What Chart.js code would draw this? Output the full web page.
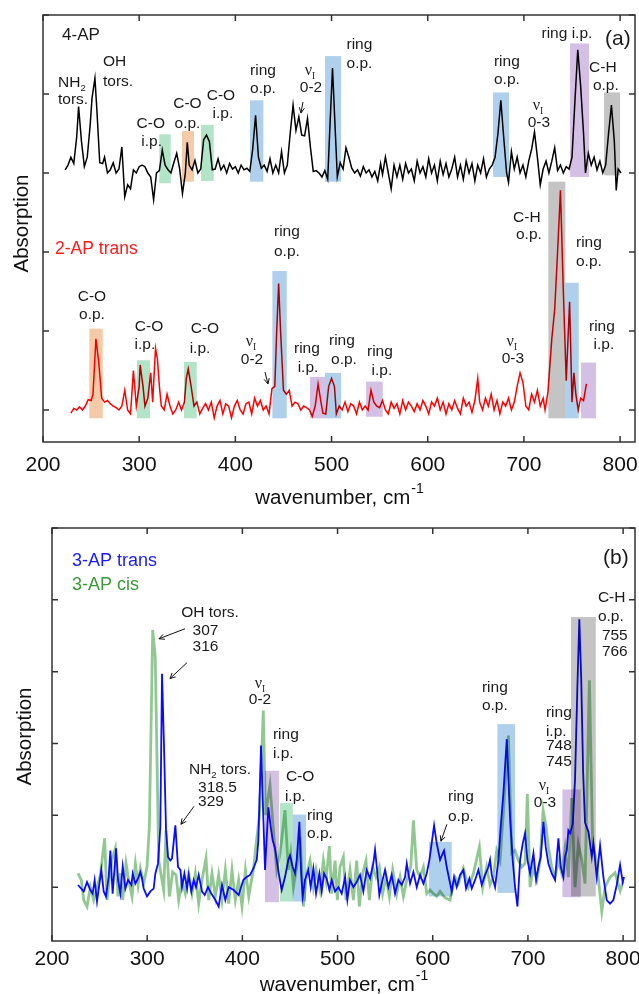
<!DOCTYPE html>
<html>
<head>
<meta charset="utf-8">
<script src="https://cdn.jsdelivr.net/npm/chart.js@4.4.0/dist/chart.umd.min.js"></script>
<style>
  body { margin: 0; background: #fff; }
  canvas { position: absolute; left: 0; }
  #chartA { top: 0; }
  #chartB { top: 515px; }
</style>
</head>
<body>
<canvas id="chartA" width="639" height="515"></canvas>
<canvas id="chartB" width="639" height="479"></canvas>
<script>
// ---- panel (a): 4-AP (offset +3) and 2-AP trans ----
const ap4Wn = [223,226,229,232,235,237,240,243,246,249,251,254,256,259,262,264,267,270,273,276,279,282,285,288,291,294,297,300,303,306,309,312,315,318,321,324,327,330,333,336,339,342,345,348,350,352,355,358,361,364,367,370,373,376,379,382,385,388,391,394,397,400,403,406,409,412,415,418,421,424,427,430,433,436,439,442,445,448,451,454,457,460,463,466,469,472,475,478,481,484,487,490,493,496,498,501,504,506,509,512,515,518,521,524,527,530,533,536,539,542,545,548,551,553,556,559,562,565,568,571,574,577,580,583,586,589,592,595,598,601,604,607,610,613,616,619,622,625,628,631,634,637,640,643,646,649,652,655,658,661,664,667,670,673,676,679,682,684,687,690,693,696,699,702,705,708,711,714,717,720,723,726,729,732,735,738,741,744,747,750,753,756,759,762,764,767,770,773,776,779,782,785,788,791,794,796,798,801];
const ap4Abs = [3.04,3.1,3.2,3.12,3.45,3.84,3.4,3.08,3.2,3.6,3.95,4.2,3.8,3.13,3.12,3.2,3.0,3.04,3.13,3.0,3.05,3.33,2.7,2.85,2.8,3.04,3.0,3.08,3.1,3.08,3.0,2.95,2.66,3.0,3.03,3.29,3.1,3.04,3.0,3.13,3.25,3.06,2.74,3.0,3.39,3.1,3.04,3.16,3.0,3.05,3.42,3.48,3.4,3.04,3.05,3.18,3.04,3.1,3.0,3.12,3.05,3.08,3.0,3.1,3.04,3.06,3.02,3.3,3.73,3.2,3.06,3.1,3.02,3.18,3.0,3.1,3.0,3.27,3.0,3.1,3.5,3.86,3.54,3.71,3.48,3.47,3.69,3.33,3.02,3.03,3.0,2.95,3.03,2.92,3.5,4.33,3.5,2.95,3.13,3.05,3.32,3.2,3.06,3.0,3.04,2.96,3.08,3.0,3.04,2.95,3.02,2.9,3.12,2.98,3.2,3.0,2.8,3.1,2.95,3.1,2.92,3.12,3.0,3.05,2.9,3.15,3.0,3.08,2.95,3.18,3.0,3.1,2.9,3.15,2.98,3.12,2.95,3.05,3.2,2.95,3.1,2.92,3.15,3.0,3.12,2.9,3.1,3.0,3.18,2.95,3.05,3.1,3.2,3.5,3.92,3.45,3.0,2.88,3.27,3.05,3.2,3.0,3.1,2.95,3.15,3.3,3.52,3.2,2.85,3.05,3.15,3.0,3.15,3.32,3.03,3.1,3.0,3.08,3.05,3.2,3.9,4.56,4.1,3.5,3.0,3.25,3.1,3.2,3.04,3.15,3.0,3.1,3.5,3.86,3.4,2.78,3.05,3.0];

const ap2Wn = [229,232,235,238,241,244,247,250,252,255,258,261,264,267,270,273,276,279,282,285,288,291,294,297,300,301,304,306,309,312,314,317,319,321,323,326,329,332,335,338,341,344,347,349,351,354,357,360,363,366,369,372,375,378,381,384,387,390,393,396,399,402,405,408,411,414,417,420,423,426,429,432,435,438,441,443,445,447,450,453,456,459,462,465,468,471,474,477,480,483,486,489,491,494,497,500,503,505,508,511,514,517,520,523,526,529,532,535,538,541,544,547,550,553,556,559,562,565,568,571,574,577,580,583,586,589,592,595,598,601,604,607,610,613,616,619,622,625,628,631,634,637,640,643,646,649,652,654,657,660,663,666,669,672,675,678,681,684,687,690,693,696,699,702,705,708,711,714,717,720,722,725,729,732,735,738,741,744,747.5,750,752,754,756.5,759,762,765];
const ap2Abs = [-0.04,0.02,0.0,0.04,0.0,0.05,0.13,0.12,0.2,0.9,0.6,0.15,0.1,0.12,0.08,0.05,0.03,0.0,0.05,0.25,0.0,-0.05,0.5,0.05,0.3,0.57,0.3,0.05,0.15,0.47,0.1,0.78,0.64,0.3,0.05,0.0,0.2,0.05,-0.05,0.0,0.1,0.0,0.1,0.4,0.52,0.3,0.05,0.1,-0.05,0.02,0.08,0.0,0.1,-0.1,0.05,0.12,-0.05,0.08,0.05,-0.1,0.05,0.12,0.0,-0.05,0.08,0.1,-0.05,0.15,0.05,0.12,0.0,0.05,-0.05,0.27,0.3,1.0,1.6,1.0,0.25,0.2,0.25,0.05,0.1,0.08,0.0,0.05,0.03,0.0,-0.08,0.05,0.33,0.1,-0.04,-0.05,0.3,0.4,0.3,-0.05,0.05,0.0,0.1,-0.02,0.08,0.05,-0.05,0.1,0.0,0.05,0.0,0.25,0.1,0.05,0.03,0.12,0.0,-0.05,0.1,0.02,0.08,-0.05,0.12,0.0,0.1,0.05,-0.02,0.08,0.0,0.12,0.05,-0.05,0.1,0.05,0.15,0.0,0.1,-0.05,0.08,0.0,0.12,0.02,-0.05,0.15,0.05,0.1,-0.03,0.12,0.4,0.1,0.0,0.15,0.05,0.2,0.0,0.12,-0.05,0.1,0.05,0.15,0.0,0.1,0.3,0.47,0.35,0.05,0.0,0.2,0.1,0.25,0.05,0.15,0.0,0.23,0.9,1.27,2.0,2.78,1.5,0.37,1.37,0.1,0.47,0.2,0.0,0.15,0.12,0.33];

// ---- panel (b): 3-AP trans and 3-AP cis ----
const ap3tWn = [227.3,233.3,236.8,240.3,242.7,244.8,247.3,251.8,254.3,256.7,259.5,261.3,263.7,267.3,269.4,271.8,274.3,277.1,279.9,283.4,284.8,287.6,290.4,292.8,294.6,296.3,299.8,303.3,306.8,308.6,311.4,313.8,315.6,317.6,319.8,321.9,324.3,326.1,329.6,332.4,334.9,336.6,339.1,341.9,343.6,346.4,348.9,351.3,354.1,357.6,360.4,363.9,367.4,371.6,375.1,378.6,382.1,385.6,390.9,396.1,401.0,404.5,408.1,411.6,415.1,416.8,419.6,423.8,427.3,429.8,431.9,434.3,436.1,438.9,441.3,444.8,448.3,450.1,452.9,455.3,457.1,459.9,461.6,463.4,465.8,469.3,471.8,474.6,477.4,480.9,483.4,485.8,488.6,491.4,493.9,497.4,500.9,504.4,507.9,510.3,513.1,516.6,520.1,523.6,527.1,530.6,534.1,537.6,539.4,541.9,543.9,546.4,549.9,553.4,556.9,560.4,563.9,567.4,570.9,572.7,576.2,579.7,583.2,586.7,590.2,593.7,596.5,598.9,601.4,604.2,607.7,610.5,611.9,614.7,617.5,620.0,622.4,625.2,628.7,632.2,635.0,638.5,641.0,644.5,648.0,651.5,655.0,658.5,660.2,662.0,665.5,669.0,671.4,674.2,677.8,681.2,684.0,686.5,689.0,691.8,694.6,697.0,699.5,702.3,705.8,708.6,711.0,713.5,716.3,718.7,721.5,725.0,728.5,732.0,734.5,737.3,739.0,740.8,742.5,744.3,747.1,749.5,752.0,754.0,756.0,758.0,760.0,763.6,767.1,768.8,772.3,775.8,779.3,782.8,786.3,789.8,793.3,796.8,799.6,801.0];
const ap3tAbs = [0.03,-0.06,0.07,-0.04,-0.09,0.10,-0.20,0.24,-0.06,-0.13,0.14,0.51,-0.09,0.54,0.10,-0.09,0.29,-0.02,0.10,0.03,0.19,0.05,0.12,0.21,0.12,-0.02,-0.13,-0.06,-0.02,0.19,0.33,0.84,2.97,2.0,0.79,0.42,0.37,0.40,0.86,0.28,0.24,0.0,0.19,-0.02,0.17,-0.06,0.10,0.0,0.17,-0.06,-0.11,0.0,-0.09,-0.18,-0.27,0.03,-0.18,0.0,-0.04,-0.11,0.10,0.14,0.17,0.26,0.38,0.65,1.97,0.24,1.11,0.84,0.65,0.54,0.38,0.14,-0.04,0.14,0.38,0.44,0.28,0.19,0.38,0.91,0.24,-0.13,0.10,0.24,0.0,0.26,-0.09,0.19,-0.06,0.19,0.12,-0.04,0.10,-0.06,0.0,-0.09,0.14,-0.18,0.10,0.0,0.07,0.17,-0.06,0.24,0.12,0.33,0.52,0.19,-0.11,0.05,0.24,0.0,0.17,-0.09,0.10,0.03,0.14,0.33,0.05,0.21,0.0,0.17,0.05,0.19,0.38,0.61,0.86,0.61,0.38,0.47,0.51,0.28,0.10,-0.06,0.14,0.0,0.17,0.24,-0.02,0.12,-0.02,0.10,0.24,0.03,0.17,0.28,0.38,0.17,0.0,0.38,0.84,1.3,2.06,0.98,0.38,0.0,-0.27,0.38,0.61,0.75,0.38,0.19,0.47,0.10,0.28,0.42,0.91,0.56,0.33,0.19,0.10,0.68,0.28,0.14,0.42,0.51,0.79,0.75,0.88,1.5,2.8,3.73,2.9,1.6,0.9,0.77,0.42,0.61,0.14,0.58,0.14,-0.18,-0.23,-0.18,0.03,0.31,0.07,0.14];

const ap3cWn = [227.3,230.8,233.3,236.8,240.3,243.8,247.3,250.8,255.3,257.8,260.2,263.0,266.5,269.4,271.8,274.3,277.8,280.6,284.1,287.6,290.4,292.8,296.3,299.8,302.3,305.8,308.5,312.1,313.8,317.3,319.8,323.3,326.8,330.3,333.1,336.6,340.1,343.6,347.1,350.6,354.1,357.6,361.8,364.6,368.1,371.6,375.1,378.6,382.1,385.6,389.1,392.6,396.1,399.6,403.2,406.7,410.2,411.6,414.4,418.0,422.0,424.2,429.0,433.3,436.1,439.6,444.8,448.3,450.8,453.6,457.1,460.6,464.1,467.6,471.1,474.6,477.4,481.6,485.1,487.9,491.4,493.9,497.4,499.8,502.6,506.1,508.9,513.1,516.6,520.1,522.9,526.4,529.9,533.4,536.9,540.4,543.9,547.4,550.9,554.4,557.9,562.2,565.7,569.2,572.7,576.9,579.7,583.2,586.7,590.2,593.7,597.2,600.7,604.2,607.7,612.9,618.2,623.4,626.9,632.2,637.5,642.7,649.0,652.5,656.7,660.2,663.7,667.2,670.7,674.0,679.5,683.0,686.5,690.0,693.5,697.0,699.4,702.3,705.8,709.3,712.8,716.0,719.1,721.5,725.0,728.5,732.0,735.5,739.0,742.5,746.0,749.5,753.0,756.6,760.0,764.6,768.0,772.0,777.6,781.0,786.3,791.6,797.0,800.0];
const ap3cAbs = [0.19,0.10,-0.18,-0.27,0.0,-0.18,0.0,0.17,0.68,-0.18,0.10,0.38,0.54,-0.13,0.19,-0.18,0.33,0.10,-0.13,0.33,0.03,0.26,0.05,0.28,0.84,3.58,3.2,0.37,0.24,-0.04,0.79,-0.13,0.21,0.17,-0.18,0.10,-0.09,0.19,-0.09,0.19,-0.23,0.10,0.40,-0.18,0.19,-0.13,0.17,-0.18,0.24,-0.23,0.24,-0.18,0.10,-0.27,0.24,-0.13,0.14,0.24,0.60,1.0,2.46,1.0,1.42,0.68,0.24,0.47,1.07,0.24,0.47,0.0,0.28,0.70,-0.27,0.19,0.37,0.0,0.24,-0.04,0.37,0.10,0.57,-0.09,0.37,-0.18,0.28,0.42,-0.18,0.24,-0.18,0.37,-0.27,0.19,0.37,-0.18,0.28,0.14,0.28,-0.09,0.14,-0.13,0.24,-0.09,0.14,-0.13,0.10,0.28,0.93,0.24,0.14,0.28,-0.09,-0.04,-0.09,-0.13,-0.06,-0.15,-0.18,0.14,0.05,0.26,0.0,0.19,0.56,0.0,0.28,0.03,0.14,0.51,0.37,1.0,2.11,0.47,0.51,0.37,0.28,0.33,1.3,0.0,0.28,0.10,0.37,1.07,0.84,0.56,0.28,0.14,0.37,0.19,0.54,0.14,1.24,0.0,0.60,0.38,0.05,2.88,0.6,0.38,-0.34,0.0,0.14,0.2,-0.05,0.08];

// axis ticks
const xTicks = [200, 300, 400, 500, 600, 700, 800];
const yTicks = [0, 1, 2, 3, 4, 5];

// highlighted bands: [from, to, bottom, top, colour]
const bandsA = [
  [320.9,332.8,2.87,3.49,'green'], [344.5,357.0,2.89,3.53,'orange'], [364.3,377.5,2.90,3.61,'green'],
  [415.2,429.1,2.89,3.92,'blue'], [493.2,509.9,2.89,4.48,'blue'], [667.9,684.6,2.95,4.02,'blue'],
  [748.0,767.7,2.95,4.64,'purple'], [783.3,800.0,2.97,4.02,'gray'],
  [248.2,262.1,-0.105,1.03,'orange'], [297.7,311.3,-0.105,0.63,'green'], [346.6,359.8,-0.105,0.61,'green'],
  [438.5,453.4,-0.105,1.76,'blue'], [477.6,493.2,-0.105,0.42,'purple'], [493.2,509.9,-0.105,0.47,'blue'],
  [535.9,553.2,-0.085,0.36,'purple'], [725.4,743.1,-0.105,2.89,'gray'], [743.1,757.0,-0.105,1.61,'blue'],
  [759.4,775.0,-0.105,0.60,'purple']
];
const bandsB = [
  [423.7,438.4,-0.21,1.62,'purple'], [439.6,452.9,-0.20,1.17,'green'], [452.9,466.9,-0.20,1.01,'blue'],
  [596.1,620.0,-0.13,0.63,'blue'], [667.9,686.5,-0.08,2.27,'blue'], [745.3,771.3,-0.13,3.76,'gray'],
  [736.2,755.5,-0.14,1.36,'purple']
];
const bandColors = { blue: '#afd0ec', green: '#b2e4c8', orange: '#f5caa6', purple: '#d4c0e4', gray: '#c4c4c4' };

// annotations: [text, wavenumber, value, align, style]  ("_" marks a one-letter subscript)
const labelsA = [
  ['4-AP',219.8,4.684,'left','name'],
  ['NH_2',215.6,4.089,'left'], ['tors.',215.6,3.873,'left'],
  ['OH',262.4,4.354,'left'], ['tors.',262.4,4.101,'left'],
  ['C-O',312.1,3.570,'center'], ['i.p.',313.0,3.346,'center'],
  ['C-O',350.2,3.819,'center'], ['o.p.',350.2,3.573,'center'],
  ['C-O',385.0,3.924,'center'], ['i.p.',387.1,3.692,'center'],
  ['ring',428.7,4.241,'center'], ['o.p.',428.7,4.016,'center'],
  ['ν_I',477.5,4.241,'center'], ['0-2',478.6,4.029,'center'],
  ['ring',529.0,4.566,'center'], ['o.p.',529.0,4.333,'center'],
  ['ring',682.3,4.354,'center'], ['o.p.',682.3,4.123,'center'],
  ['ν_I',714.6,3.797,'center'], ['0-3',715.6,3.578,'center'],
  ['ring i.p.',744.7,4.705,'center'],
  ['C-H',782.1,4.282,'center'], ['o.p.',785.2,4.051,'center'],
  ['(a)',797.7,4.620,'center','panel'],
  ['2-AP trans',212.5,1.975,'left','red'],
  ['C-O',250.9,1.384,'center'], ['o.p.',250.9,1.148,'center'],
  ['C-O',310.2,1.004,'center'], ['i.p.',306.0,0.768,'center'],
  ['C-O',368.4,0.978,'center'], ['i.p.',363.2,0.725,'center'],
  ['ν_I',416.2,0.814,'center'], ['0-2',417.3,0.578,'center'],
  ['ring',453.6,2.203,'center'], ['o.p.',453.6,1.949,'center'],
  ['ring',474.4,0.725,'center'], ['i.p.',475.5,0.485,'center'],
  ['ring',510.8,0.823,'center'], ['o.p.',512.9,0.582,'center'],
  ['ring',550.3,0.684,'center'], ['i.p.',552.4,0.443,'center'],
  ['ν_I',687.5,0.814,'center'], ['0-3',688.6,0.591,'center'],
  ['C-H',703.1,2.384,'center'], ['o.p.',705.2,2.161,'center'],
  ['ring',767.6,2.067,'center'], ['o.p.',767.6,1.823,'center'],
  ['ring',781.1,1.0,'center'], ['i.p.',783.2,0.768,'center']
];
const labelsB = [
  ['3-AP trans',221.0,4.472,'left','blue'], ['3-AP cis',221.0,4.139,'left','green'],
  ['OH tors.',366.0,3.764,'center'], ['307',361.2,3.514,'center'], ['316',361.2,3.292,'center'],
  ['ν_I',418.5,2.774,'center'], ['0-2',418.5,2.551,'center'],
  ['ring',432.1,2.069,'left'], ['i.p.',432.1,1.796,'left'],
  ['C-O',445.8,1.472,'left'], ['i.p.',444.7,1.194,'left'],
  ['ring',467.9,0.940,'left'], ['o.p.',467.9,0.690,'left'],
  ['NH_2 tors.',343.9,1.579,'left'], ['318.5',353.4,1.324,'left'], ['329',353.4,1.129,'left'],
  ['ring',629.6,1.194,'center'], ['o.p.',629.6,0.921,'center'],
  ['ν_I',716.8,1.357,'center'], ['0-3',717.9,1.115,'center'],
  ['ring',651.7,2.722,'left'], ['o.p.',651.7,2.468,'left'],
  ['ring',718.9,2.375,'left'], ['i.p.',718.9,2.111,'left'], ['748',718.9,1.903,'left'], ['745',718.9,1.681,'left'],
  ['(b)',792.4,4.496,'center','panel'],
  ['C-H',773.5,3.976,'left'], ['o.p.',773.5,3.708,'left'], ['755',777.7,3.440,'left'], ['766',777.7,3.218,'left']
];
// arrows: [fromX, fromY, toX, toY]
const arrowsA = [[470.3,3.899,468.2,3.759], [430.8,0.481,433.9,0.329]];
const arrowsB = [[339.7,3.597,312.4,3.458], [341.8,3.125,323.9,2.903], [349.2,1.125,335.5,0.875], [614.9,0.875,608.6,0.639]];

const SANS = '"Liberation Sans", Arial, Helvetica, sans-serif';
const SERIF = '"Liberation Serif", "Times New Roman", serif';
const labelStyles = {
  plain: { size: 15.5, color: '#1a1a1a' },
  name: { size: 17, color: '#1a1a1a' },
  red: { size: 17.5, color: '#ff1a1a' },
  blue: { size: 18, color: '#1a1aff' },
  green: { size: 18, color: '#3a9a3a' },
  panel: { size: 21, color: '#1a1a1a' }
};

function drawRich(ctx, text, px, py, align, st) {
  const nu = text.startsWith('ν');
  const bits = text.split('_');
  const parts = [{ s: bits[0], sub: false }];
  for (let i = 1; i < bits.length; i++) {
    parts.push({ s: bits[i][0], sub: true });
    if (bits[i].length > 1) parts.push({ s: bits[i].slice(1), sub: false });
  }
  const fam = nu ? SERIF : SANS;
  parts.forEach(p => {
    p.font = (p.sub ? st.size * 0.62 : st.size * (nu ? 1.05 : 1)) + 'px ' + fam;
    ctx.font = p.font;
    p.w = ctx.measureText(p.s).width;
  });
  const total = parts.reduce((a, p) => a + p.w, 0);
  let x = align === 'center' ? px - total / 2 : px;
  ctx.fillStyle = st.color;
  ctx.textAlign = 'left';
  ctx.textBaseline = 'alphabetic';
  parts.forEach(p => {
    ctx.font = p.font;
    ctx.fillText(p.s, x, py + (p.sub ? st.size * 0.28 : 0));
    x += p.w;
  });
}

function makeFrame(cfg) {
  return {
    id: 'frame' + cfg.name,
    afterDatasetsDraw(chart) {
      const { ctx, chartArea: a, scales: { x, y } } = chart;
      // highlighted bands, multiplied over the spectra
      ctx.save();
      ctx.beginPath();
      ctx.rect(a.left, a.top, a.right - a.left, a.bottom - a.top);
      ctx.clip();
      ctx.globalCompositeOperation = 'multiply';
      cfg.bands.forEach(b => {
        const x0 = x.getPixelForValue(b[0]), x1 = x.getPixelForValue(b[1]);
        const y0 = y.getPixelForValue(b[3]), y1 = y.getPixelForValue(b[2]);
        ctx.fillStyle = bandColors[b[4]];
        ctx.fillRect(x0, y0, x1 - x0, y1 - y0);
      });
      ctx.restore();

      // box and inward ticks
      ctx.save();
      ctx.strokeStyle = '#333';
      ctx.lineWidth = 1.5;
      ctx.strokeRect(a.left, a.top, a.right - a.left, a.bottom - a.top);
      ctx.beginPath();
      xTicks.forEach(v => {
        const px = x.getPixelForValue(v);
        ctx.moveTo(px, a.bottom); ctx.lineTo(px, a.bottom - 6);
        ctx.moveTo(px, a.top); ctx.lineTo(px, a.top + 6);
      });
      yTicks.forEach(v => {
        const py = y.getPixelForValue(v);
        ctx.moveTo(a.left, py); ctx.lineTo(a.left + 6, py);
        ctx.moveTo(a.right, py); ctx.lineTo(a.right - 6, py);
      });
      ctx.stroke();

      // tick labels
      ctx.fillStyle = '#111';
      ctx.font = '21px ' + SANS;
      ctx.textAlign = 'center';
      ctx.textBaseline = 'alphabetic';
      xTicks.forEach(v => ctx.fillText(String(v), x.getPixelForValue(v), cfg.tickBase));

      // x title with superscript
      ctx.font = '20.5px ' + SANS;
      const main = 'wavenumber, cm';
      const wMain = ctx.measureText(main).width;
      ctx.font = '14px ' + SANS;
      const wSup = ctx.measureText('-1').width;
      const xs = (a.left + a.right) / 2 - (wMain + wSup) / 2;
      ctx.textAlign = 'left';
      ctx.font = '20.5px ' + SANS;
      ctx.fillText(main, xs, cfg.titleBase);
      ctx.font = '14px ' + SANS;
      ctx.fillText('-1', xs + wMain + 1, cfg.titleBase - 11);

      // y title
      ctx.translate(cfg.yTitleX, (a.top + a.bottom) / 2 + cfg.yTitleShift);
      ctx.rotate(-Math.PI / 2);
      ctx.font = '20.5px ' + SANS;
      ctx.textAlign = 'center';
      ctx.textBaseline = 'middle';
      ctx.fillText('Absorption', 0, 0);
      ctx.restore();

      // arrows
      ctx.save();
      ctx.strokeStyle = '#111';
      ctx.lineWidth = 1;
      cfg.arrows.forEach(r => {
        const x0 = x.getPixelForValue(r[0]), y0 = y.getPixelForValue(r[1]);
        const x1 = x.getPixelForValue(r[2]), y1 = y.getPixelForValue(r[3]);
        const ang = Math.atan2(y1 - y0, x1 - x0);
        ctx.beginPath();
        ctx.moveTo(x0, y0); ctx.lineTo(x1, y1);
        ctx.moveTo(x1 - 6 * Math.cos(ang - 0.45), y1 - 6 * Math.sin(ang - 0.45));
        ctx.lineTo(x1, y1);
        ctx.lineTo(x1 - 6 * Math.cos(ang + 0.45), y1 - 6 * Math.sin(ang + 0.45));
        ctx.stroke();
      });
      ctx.restore();

      // text annotations
      ctx.save();
      cfg.labels.forEach(l => {
        drawRich(ctx, l[0], x.getPixelForValue(l[1]), y.getPixelForValue(l[2]), l[3], labelStyles[l[4] || 'plain']);
      });
      ctx.restore();
    }
  };
}

function pts(wn, vals) {
  return wn.map((w, i) => ({ x: w, y: vals[i] }));
}

function buildChart(id, datasets, cfg) {
  return new Chart(document.getElementById(id), {
    type: 'line',
    data: { datasets: datasets },
    options: {
      responsive: false,
      animation: false,
      events: [],
      layout: { padding: { top: cfg.top, right: 4, left: 0, bottom: 0 }, autoPadding: false },
      elements: { point: { radius: 0 }, line: { tension: 0 } },
      plugins: { legend: { display: false }, tooltip: { enabled: false }, title: { display: false } },
      scales: {
        x: {
          type: 'linear', min: cfg.xMin, max: cfg.xMax,
          grid: { display: false, drawTicks: false }, border: { display: false },
          ticks: { display: false },
          afterFit: s => { s.height = cfg.xHeight; }
        },
        y: {
          type: 'linear', min: cfg.yMin, max: cfg.yMax,
          grid: { display: false, drawTicks: false }, border: { display: false },
          ticks: { display: false },
          afterFit: s => { s.width = cfg.yWidth; }
        }
      }
    },
    plugins: [makeFrame(cfg)]
  });
}

buildChart('chartA', [
  { label: '4-AP', data: pts(ap4Wn, ap4Abs), borderColor: '#000', borderWidth: 1.5 },
  { label: '2-AP trans', data: pts(ap2Wn, ap2Abs), borderColor: '#ff0000', borderWidth: 1.5 }
], {
  name: 'A', top: 15, xHeight: 73, yWidth: 43, xMin: 200, xMax: 815.5, yMin: -0.405, yMax: 5,
  bands: bandsA, labels: labelsA, arrows: arrowsA, tickBase: 471, titleBase: 504, yTitleX: 22, yTitleShift: -5
});

buildChart('chartB', [
  { label: '3-AP trans', data: pts(ap3tWn, ap3tAbs), borderColor: '#0a0aff', borderWidth: 1.8 },
  { label: '3-AP cis', data: pts(ap3cWn, ap3cAbs), borderColor: 'rgba(55,155,55,0.55)', borderWidth: 2.8 }
], {
  name: 'B', top: 13, xHeight: 53, yWidth: 52, xMin: 200, xMax: 812.5, yMin: -0.75, yMax: 5,
  bands: bandsB, labels: labelsB, arrows: arrowsB, tickBase: 450, titleBase: 476, yTitleX: 25, yTitleShift: 2
});
</script>
</body>
</html>
